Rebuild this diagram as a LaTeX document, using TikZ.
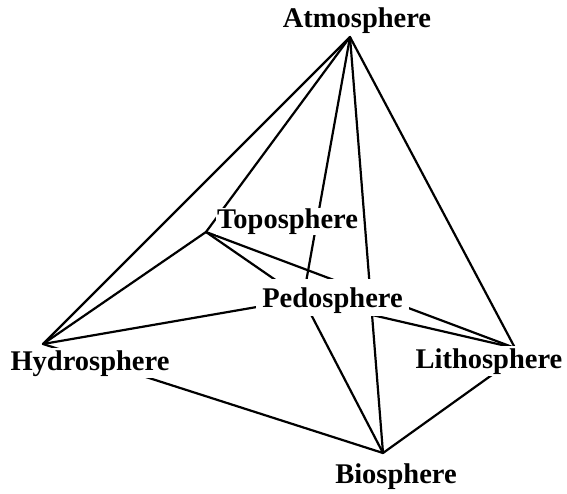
\documentclass[tikz,border=0pt]{standalone}
\usepackage{fontspec}
\setmainfont{Liberation Serif}
\begin{document}
\begin{tikzpicture}[x=1pt,y=-1pt,
  edge/.style={line width=2.2pt, line cap=round, line join=round},
  lbl/.style={font=\fontsize{28.5}{30}\selectfont\bfseries, anchor=base, fill=white, inner xsep=1pt, inner ysep=0pt}]
\useasboundingbox (0,0) rectangle (567,493);
% vertices
\coordinate (A) at (350,37);
\coordinate (T) at (206,232);
\coordinate (H) at (43,344);
\coordinate (L) at (515,348);
\coordinate (Lb) at (510,362);
\coordinate (B) at (383,453);
\coordinate (P) at (303,299);
% edges
\draw[edge] (A) -- (H);
\draw[edge] (A) -- (T);
\draw[edge] (A) -- (P);
\draw[edge] (A) -- (B);
\draw[edge] (A) -- (L);
\draw[edge] (T) -- (H);
\draw[edge] (T) -- (P);
\draw[edge] (T) -- (L);
\draw[edge] (H) -- (P);
\draw[edge] (H) -- (B);
\draw[edge] (P) -- (B);
\draw[edge] (P) -- (L);
\draw[edge] (Lb) -- (B);
% labels
\node[lbl] (atm) at (357,27) {Atmosphere};
\node[lbl, inner ysep=0.5pt] (topo) at (287.5,228) {Toposphere};
\node[lbl, text height=26pt, text depth=7pt, inner ysep=2pt, inner xsep=6pt] (pedo) at (332.5,307) {Pedosphere};
\node[lbl, text depth=6pt, inner ysep=2pt] (hydro) at (90,370) {Hydrosphere};
\node[lbl, text depth=6pt, inner ysep=2pt] (litho) at (489,368) {Lithosphere};
\node[lbl] (bio) at (396,483) {Biosphere};
\end{tikzpicture}
\end{document}
